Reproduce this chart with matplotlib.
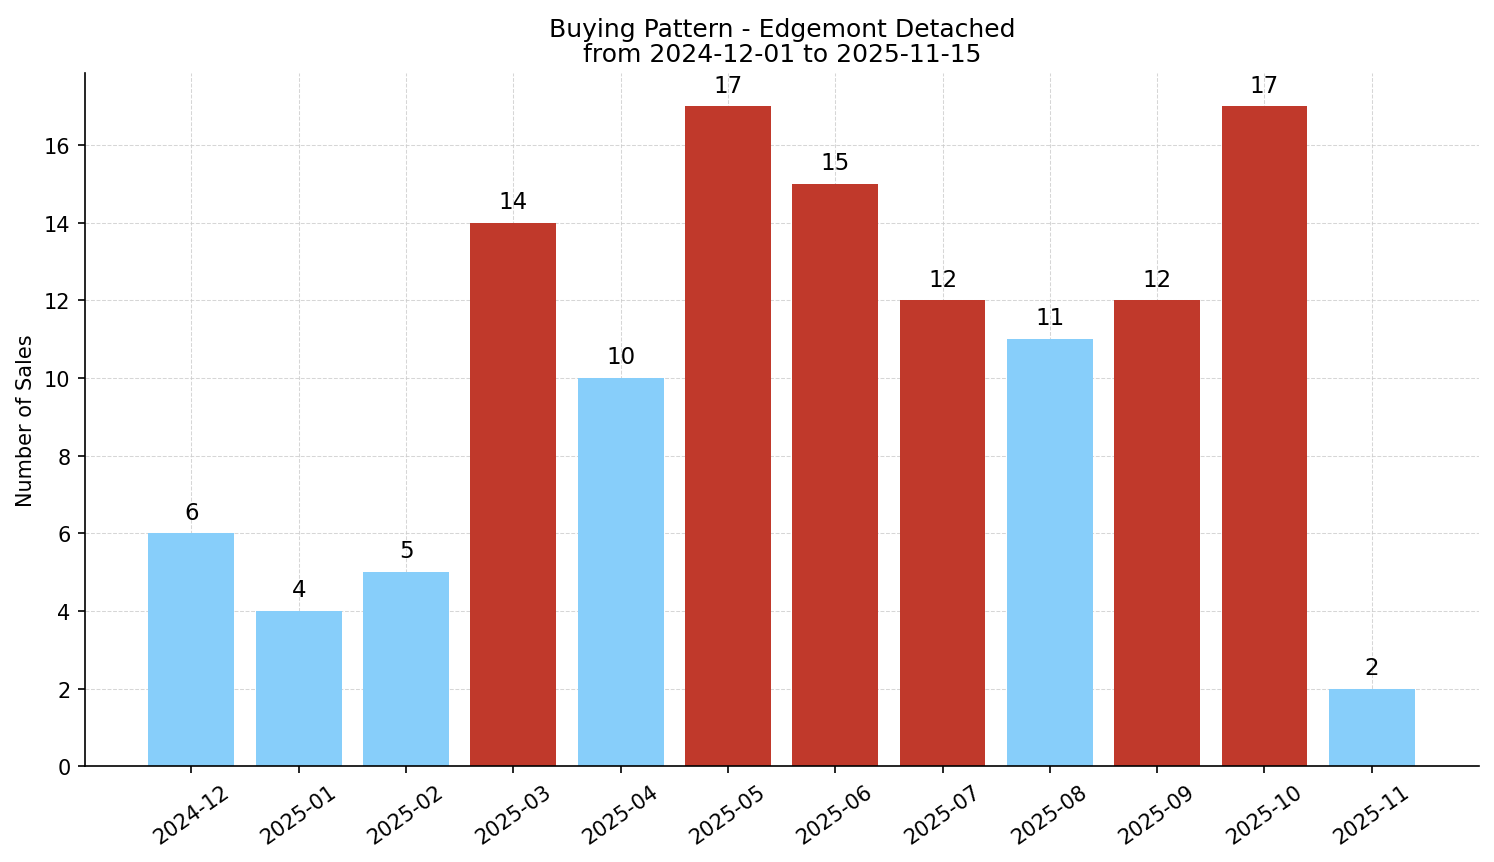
import matplotlib
matplotlib.use("Agg")
import matplotlib.pyplot as plt

months = ["2024-12", "2025-01", "2025-02", "2025-03", "2025-04", "2025-05",
          "2025-06", "2025-07", "2025-08", "2025-09", "2025-10", "2025-11"]
sales = [6, 4, 5, 14, 10, 17, 15, 12, 11, 12, 17, 2]
hot = [False, False, False, True, False, True, True, True, False, True, True, False]

BLUE = "#87CEFA"
RED = "#C0392B"

fig = plt.figure(figsize=(9.96, 5.753), dpi=150)
ax = fig.add_axes([0.057, 0.111, 0.933, 0.803])

x = list(range(len(months)))
colors = [RED if h else BLUE for h in hot]
bars = ax.bar(x, sales, width=0.8, color=colors, zorder=2)

for b, v in zip(bars, sales):
    ax.text(b.get_x() + b.get_width() / 2, v + 0.25, str(v),
            ha="center", va="bottom", fontsize=11)

ax.set_xticks(x)
ax.set_xticklabels(months, rotation=35, ha="center", fontsize=10)
ax.tick_params(axis="y", labelsize=10)
ax.set_xlim(-0.99, 12.0)
ax.set_ylim(0, 17.85)
ax.set_ylabel("Number of Sales", fontsize=10)
ax.set_title("Buying Pattern - Edgemont Detached\nfrom 2024-12-01 to 2025-11-15",
             fontsize=12, linespacing=1.05)

ax.grid(True, linestyle="--", linewidth=0.5, color="#cccccc", alpha=0.8, zorder=0)
ax.set_axisbelow(True)
ax.spines["top"].set_visible(False)
ax.spines["right"].set_visible(False)

fig.savefig("out.png", dpi=150)
